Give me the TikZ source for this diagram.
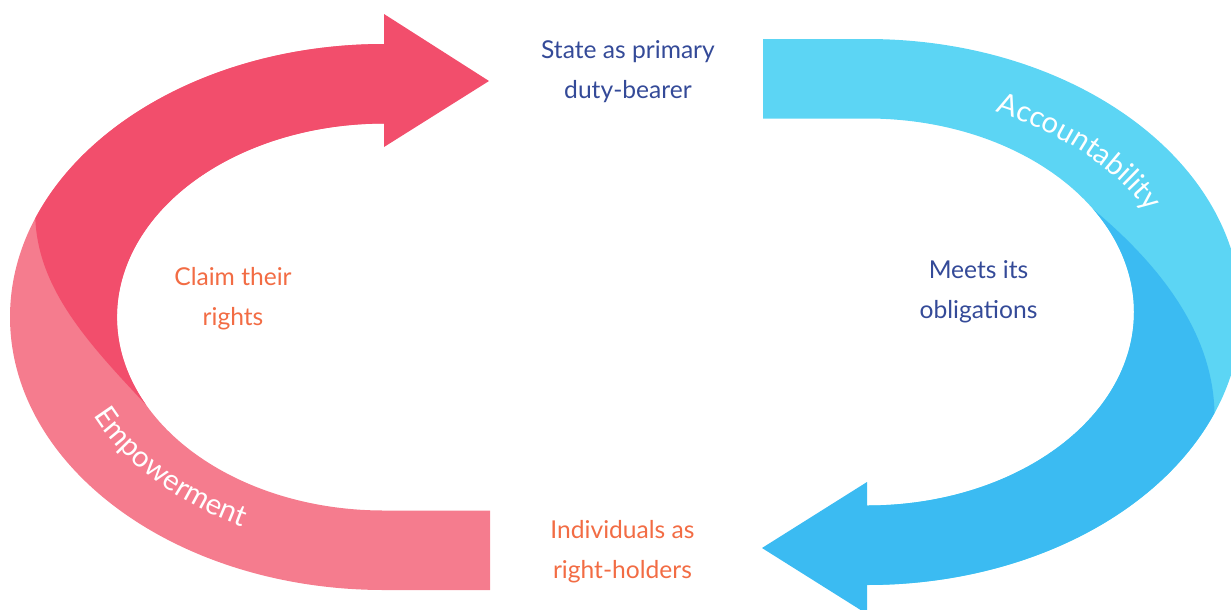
\documentclass[tikz,border=0pt]{standalone}
\usepackage{fontspec}
\setmainfont{Lato}
\usetikzlibrary{decorations.text}
\definecolor{rosedark}{RGB}{242,78,108}
\definecolor{rosepale}{RGB}{245,124,142}
\definecolor{skypale}{RGB}{92,213,244}
\definecolor{skydark}{RGB}{59,187,242}
\definecolor{navytext}{RGB}{52,74,152}
\definecolor{orangetext}{RGB}{242,108,68}
\begin{document}
\begin{tikzpicture}[x=0.3mm,y=-0.3mm,
	lbl/.style={align=center,font=\fontsize{21}{34}\selectfont},
	outer/.style={x radius=374,y radius=273},
	inner/.style={x radius=267,y radius=193.5}]
	\useasboundingbox (0,0) rectangle (1231,609);
	\coordinate (pc) at (384,317);
	\coordinate (bc) at (867,312);
	\fill[rosepale] (490,590) -- (384,590) arc[start angle=90,end angle=270,outer] -- (384,123.5) arc[start angle=270,end angle=90,inner] -- (490,510.5) -- cycle;
	\fill[rosedark] (384,44) arc[start angle=270,end angle=201.2,outer] .. controls (38,290) and (90,345) .. (146.1,404.9) arc[start angle=153,end angle=270,inner] -- (384,147) -- (489,81) -- (384,14) -- cycle;
	\fill[skypale] (763,39) -- (867,39) arc[start angle=-90,end angle=90,outer] -- (867,505.5) arc[start angle=90,end angle=-90,inner] -- (763,118.5) -- cycle;
	\fill[skydark] (1214.5,412.9) arc[start angle=21.7,end angle=90,outer] -- (867,614) -- (762,548) -- (867,482) -- (867,505.5) arc[start angle=90,end angle=-32,inner] .. controls (1168,272) and (1213,339) .. cycle;
	\path[decorate,decoration={text along path,text align=center,text={|\fontsize{25}{25}\selectfont\color{white}|Accountability}}]
		([shift={(-81:315 and 219)}]bc) arc[start angle=-81,end angle=-7,x radius=315,y radius=219];
	\path[decorate,decoration={text along path,text align=center,text={|\fontsize{25}{25}\selectfont\color{white}|Empowerment}}]
		([shift={(175:320 and 234)}]pc) arc[start angle=175,end angle=101,x radius=320,y radius=234];
	\node[lbl,text=navytext] (duty) at (628,71.4) {State as primary\\duty-bearer};
	\node[lbl,text=orangetext] (holders) at (622.5,551.4) {Individuals as\\right-holders};
	\node[lbl,text=orangetext] (claim) at (233,298.4) {Claim their\\rights};
	\node[lbl,text=navytext] (meets) at (978.5,291.4) {Meets its\\obligations};
\end{tikzpicture}
\end{document}
